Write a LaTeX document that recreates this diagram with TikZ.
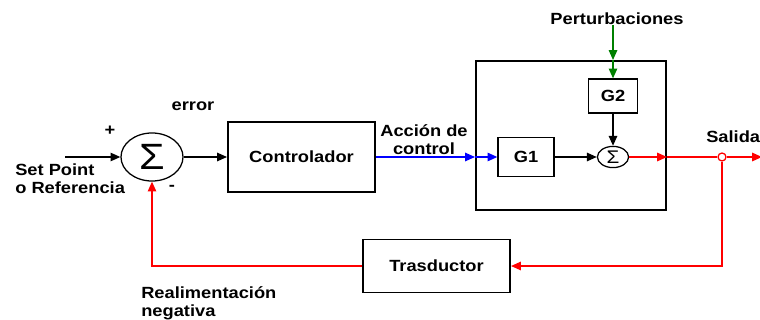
\documentclass[tikz,border=0pt]{standalone}
\usepackage{fontspec}
\setmainfont[FakeStretch=1.13]{Liberation Sans}
\usetikzlibrary{shapes, shapes.geometric, positioning, arrows.meta, calc}

\begin{document}
\begin{tikzpicture}[x=0.025cm, y=-0.025cm, font=\fontsize{11.5}{13}\selectfont\bfseries]
\tikzset{node/.style={draw, rectangle, line width=1.4pt, fill=white},
  sumnode/.style={draw, ellipse, line width=0.9pt, inner sep=0pt, font=\mdseries},
  lbl/.style={inner sep=0pt, align=left},
  arr/.style={line width=1pt, -{Triangle[length=7pt, width=6pt]}}}
\useasboundingbox (0,0) rectangle (760,320);
\node[sumnode, minimum width=1.55cm, minimum height=1.2cm] (N1) at (152,157) {\fontsize{26}{26}\selectfont Σ};
\node[node, minimum width=3.675cm, minimum height=1.75cm] (N2) at (301.5,157) {Controlador};
\node[node, minimum width=4.75cm, minimum height=3.725cm] (N3) at (571,135.5) {};
\node[node, line width=0.9pt, minimum width=1.4cm, minimum height=0.975cm] (N4) at (526,157) {G1};
\node[node, line width=0.9pt, minimum width=1.225cm, minimum height=0.85cm] (N5) at (613,96) {G2};
\node[sumnode, minimum width=0.78cm, minimum height=0.53cm] (N7) at (613,157) {\fontsize{13}{13}\selectfont Σ};
\node[node, minimum width=3.675cm, minimum height=1.325cm] (N6) at (436.5,266) {Trasductor};
\node[circle, draw=red, fill=white, line width=0.9pt, inner sep=0pt, minimum size=0.2cm] (N8) at (722,157) {};
% labels
\node[lbl] (P) at (617,19) {Perturbaciones};
\node[lbl] (E) at (193,106) {error};
\node[lbl] (plus) at (110,131) {+};
\node[lbl] (minus) at (172,188) {-};
\node[lbl, anchor=west] (SP) at (15,179) {Set Point\\o Referencia};
\node[lbl, align=center] (AC) at (424,140) {Acción de\\control};
\node[lbl, anchor=west] (S) at (706,137) {Salida};
\node[lbl, anchor=west] (R) at (141,303) {Realimentación\\negativa};
\coordinate (in) at (65,157);
\coordinate (out) at (762,157);
% connectors
\draw[arr] (in) -- (N1.west); \draw[arr] (N1.east) -- (N2.west);
\draw[arr, blue] (N2.east) -- (N2.east -| N3.west); \draw[arr, blue] (N2.east -| N3.west) -- (N4.west);
\draw[arr, green!50!black] (N5 |- P.south) -- (N5 |- N3.north); \draw[arr, green!50!black] (N5 |- N3.north) -- (N5.north);
\draw[arr] (N5.south) -- (N7.north); \draw[arr] (N4.east) -- (N7.west);
\draw[arr, red] (N7.east) -- (N7 -| N3.east); \draw[line width=1pt, red] (N7 -| N3.east) -- (N8.west);
\draw[arr, red] (N8.east) -- (out);
\draw[arr, red] (N8.south) |- (N6.east);
\draw[arr, red] (N6.west) -| (N1.south);
\end{tikzpicture}
\end{document}
